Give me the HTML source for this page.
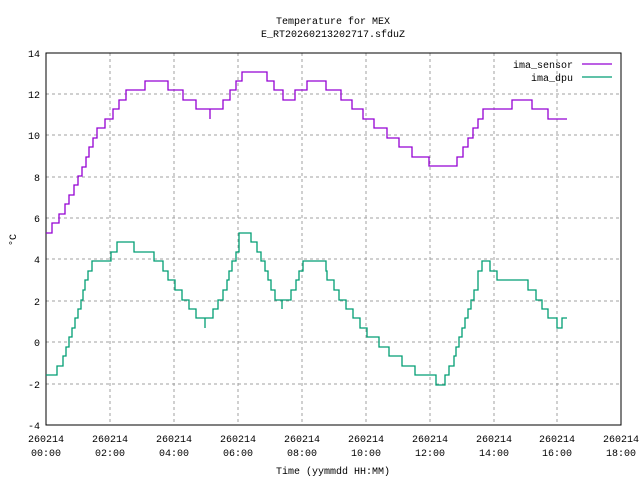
<!DOCTYPE html>
<html><head><meta charset="utf-8"><style>
body{margin:0;background:#fff}
svg{display:block}
text{font-family:"Liberation Mono","DejaVu Sans Mono",monospace;font-size:10px;fill:#000}
</style></head><body>
<svg width="640" height="480" xmlns="http://www.w3.org/2000/svg">
<rect width="640" height="480" fill="#fff"/>
<g stroke="#a0a0a0" stroke-dasharray="3,3" stroke-width="1">
<line x1="110" y1="53" x2="110" y2="425"/><line x1="174" y1="53" x2="174" y2="425"/><line x1="238" y1="53" x2="238" y2="425"/><line x1="302" y1="53" x2="302" y2="425"/><line x1="366" y1="53" x2="366" y2="425"/><line x1="430" y1="53" x2="430" y2="425"/><line x1="494" y1="53" x2="494" y2="425"/><line x1="557" y1="53" x2="557" y2="425"/>
<line x1="46" y1="94" x2="621" y2="94"/><line x1="46" y1="135" x2="621" y2="135"/><line x1="46" y1="177" x2="621" y2="177"/><line x1="46" y1="218" x2="621" y2="218"/><line x1="46" y1="259" x2="621" y2="259"/><line x1="46" y1="301" x2="621" y2="301"/><line x1="46" y1="342" x2="621" y2="342"/><line x1="46" y1="384" x2="621" y2="384"/>
</g>
<rect x="46" y="53" width="575" height="372" fill="none" stroke="#000" stroke-width="1"/>
<g text-anchor="end">
<text x="40" y="57">14</text><text x="40" y="98">12</text><text x="40" y="139">10</text><text x="40" y="181">8</text><text x="40" y="222">6</text><text x="40" y="263">4</text><text x="40" y="305">2</text><text x="40" y="346">0</text><text x="40" y="388">-2</text><text x="40" y="429">-4</text>
</g>
<g text-anchor="middle">
<text x="46" y="442">260214</text><text x="46" y="456">00:00</text>
<text x="110" y="442">260214</text><text x="110" y="456">02:00</text>
<text x="174" y="442">260214</text><text x="174" y="456">04:00</text>
<text x="238" y="442">260214</text><text x="238" y="456">06:00</text>
<text x="302" y="442">260214</text><text x="302" y="456">08:00</text>
<text x="366" y="442">260214</text><text x="366" y="456">10:00</text>
<text x="430" y="442">260214</text><text x="430" y="456">12:00</text>
<text x="494" y="442">260214</text><text x="494" y="456">14:00</text>
<text x="557" y="442">260214</text><text x="557" y="456">16:00</text>
<text x="621" y="442">260214</text><text x="621" y="456">18:00</text>
<text x="333" y="24">Temperature for MEX</text>
<text x="333" y="37">E_RT20260213202717.sfduZ</text>
<text x="333" y="474">Time (yymmdd HH:MM)</text>
<text x="0" y="0" transform="translate(16,240) rotate(-90)">°C</text>
</g>
<text x="573" y="68" text-anchor="end">ima_sensor</text>
<text x="573" y="81" text-anchor="end">ima_dpu</text>
<line x1="582" y1="64" x2="612" y2="64" stroke="#9400d3" stroke-width="1.3"/>
<line x1="582" y1="77" x2="612" y2="77" stroke="#009e73" stroke-width="1.3"/>
<polyline fill="none" stroke="#9400d3" stroke-width="1.3" points="46,233 52,233 52,223 59,223 59,214 65,214 65,204 69,204 69,195 74,195 74,185 78,185 78,176 82,176 82,167 86,167 86,157 89,157 89,147 93,147 93,138 97,138 97,128 105,128 105,119 113,119 113,109 119,109 119,100 126,100 126,90 145,90 145,81 168,81 168,90 183,90 183,100 196,100 196,109 210,109 210,119 210,109 223,109 223,100 230,100 230,90 236,90 236,81 242,81 242,72 267,72 267,81 274,81 274,90 283,90 283,100 295,100 295,90 307,90 307,81 326,81 326,90 341,90 341,100 352,100 352,109 363,109 363,119 374,119 374,128 387,128 387,138 399,138 399,147 412,147 412,157 429,157 429,166 457,166 457,157 463,157 463,147 468,147 468,138 473,138 473,128 478,128 478,119 483,119 483,109 512,109 512,100 532,100 532,109 548,109 548,119 567,119"/>
<polyline fill="none" stroke="#009e73" stroke-width="1.3" points="46,375 57,375 57,366 63,366 63,356 66,356 66,347 69,347 69,337 72,337 72,328 75,328 75,318 78,318 78,309 81,309 81,300 83,300 83,290 85,290 85,280 88,280 88,271 92,271 92,261 111,261 111,252 117,252 117,242 134,242 134,252 154,252 154,261 163,261 163,271 168,271 168,280 175,280 175,290 182,290 182,300 189,300 189,309 196,309 196,318 205,318 205,328 205,318 213,318 213,309 218,309 218,300 223,300 223,290 227,290 227,280 229,280 229,271 232,271 232,261 236,261 236,252 239,252 239,233 251,233 251,242 257,242 257,252 261,252 261,261 265,261 265,271 268,271 268,280 271,280 271,290 275,290 275,300 282,300 282,309 282,300 291,300 291,290 296,290 296,280 299,280 299,271 303,271 303,261 326,261 326,271 327,271 327,280 334,280 334,290 339,290 339,300 346,300 346,309 353,309 353,318 360,318 360,328 367,328 367,337 379,337 379,347 389,347 389,356 402,356 402,366 415,366 415,375 436,375 436,385 445,385 445,375 449,375 449,366 454,366 454,356 456,356 456,347 459,347 459,337 462,337 462,328 465,328 465,318 468,318 468,309 471,309 471,300 474,300 474,290 478,290 478,271 482,271 482,261 490,261 490,271 497,271 497,280 528,280 528,290 536,290 536,300 542,300 542,309 548,309 548,318 557,318 557,328 562,328 562,318 567,318"/>
</svg>
</body></html>
